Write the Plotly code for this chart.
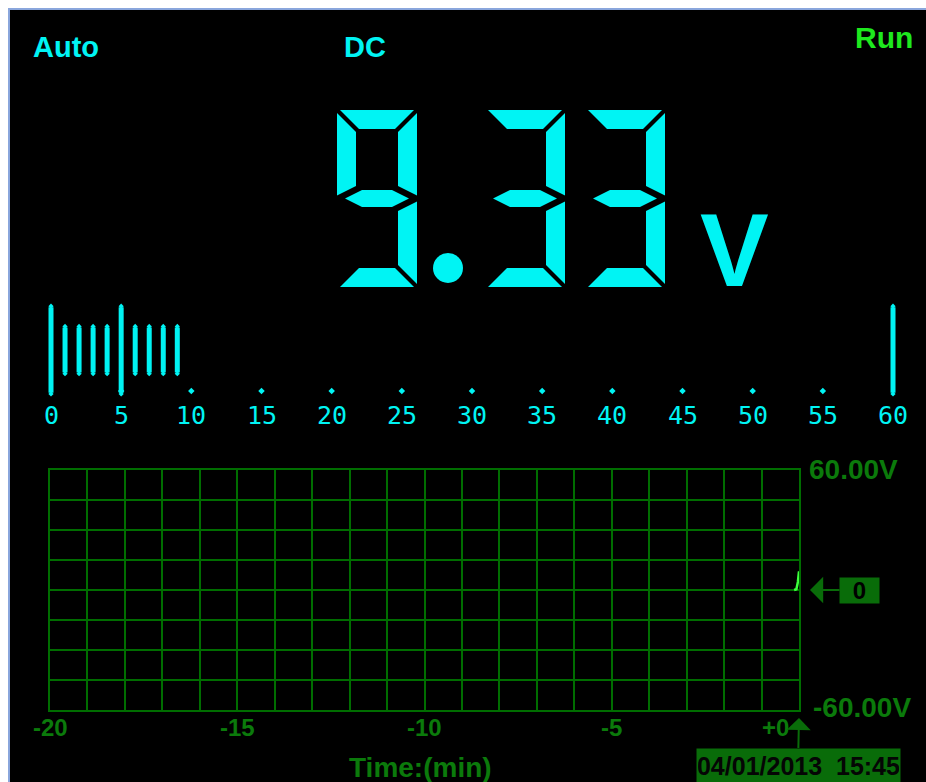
import plotly.graph_objects as go

# ---------------- data ----------------
reading_value = 9.33
reading_text = "9.33"
reading_unit = "V"
mode_label = "Auto"
coupling_label = "DC"
state_label = "Run"

bar_scale_ticks = [0, 5, 10, 15, 20, 25, 30, 35, 40, 45, 50, 55, 60]
bar_scale_max = 60

trend_time = [-0.13, -0.07, -0.03, 0.0]
trend_volts = [0.0, 0.4, 4.0, 9.33]
trend_xticks = [-20, -15, -10, -5]
trend_xticktext = ["-20", "-15", "-10", "-5"]
trend_end_label = "+0"
trend_ymin, trend_ymax = -60, 60
trend_ymax_label = "60.00V"
trend_ymin_label = "-60.00V"
offset_marker = "0"
timestamp = "04/01/2013  15:45"
time_axis_title = "Time:(min)"

# ---------------- style ----------------
W, H = 926, 782
CYAN = "#00f4f4"
GRID = "#006d00"
TXTG = "#0b7a0b"
BOXG = "#096c09"
RUNG = "#1ee81e"
TRACE = "#3cff3c"
FONT = "Liberation Sans, Arial, sans-serif"


def px(x):
    return x / W


def py(y):
    return 1 - y / H


fig = go.Figure()

# ---------- trend graph ----------
fig.add_trace(go.Scatter(x=trend_time, y=trend_volts, mode="lines",
                         line=dict(color=TRACE, width=2.5),
                         xaxis="x", yaxis="y", hoverinfo="skip", cliponaxis=False))

# ---------- analog bar graph ----------
bar_x0_px, bar_x60_px = 51, 893
ppu = (bar_x60_px - bar_x0_px) / bar_scale_max
bar_center_px, bar_unit_px = 350, 22.5
small_half, tall_half = 1.0, 1.9

seg_units = list(range(0, int(reading_value) + 1))
bars_x = seg_units + [bar_scale_max]
bars_half = [tall_half if (u % 5 == 0) else small_half for u in seg_units] + [tall_half]
fig.add_trace(go.Bar(x=bars_x, y=[2 * h for h in bars_half], base=[-h for h in bars_half],
                     width=5 / ppu, marker=dict(color=CYAN, line=dict(width=0)),
                     xaxis="x2", yaxis="y2", hoverinfo="skip"))
# pointed bar ends
end_x = bars_x + bars_x
end_y = [h + 0.05 for h in bars_half] + [-h - 0.05 for h in bars_half]
fig.add_trace(go.Scatter(x=end_x, y=end_y, mode="markers",
                         marker=dict(color=CYAN, size=4, symbol="diamond"),
                         xaxis="x2", yaxis="y2", hoverinfo="skip"))
dots_x = [t for t in bar_scale_ticks if 0 < t < bar_scale_max]
dot_y = (bar_center_px - 391) / bar_unit_px
fig.add_trace(go.Scatter(x=dots_x, y=[dot_y] * len(dots_x), mode="markers",
                         marker=dict(color=CYAN, size=5, symbol="diamond"),
                         xaxis="x2", yaxis="y2", hoverinfo="skip"))

annotations = []
label_y = (bar_center_px - 415) / bar_unit_px
for t in bar_scale_ticks:
    annotations.append(dict(x=t, y=label_y, xref="x2", yref="y2", text=str(t),
                            showarrow=False, xanchor="center", yanchor="middle",
                            font=dict(family="DejaVu Sans Mono", size=25, color=CYAN)))

# ---------- seven segment reading ----------
SEGMAP = {"0": "abcdef", "1": "bc", "2": "abged", "3": "abgcd", "4": "fgbc",
          "5": "afgcd", "6": "afgedc", "7": "abc", "8": "abcdefg", "9": "abcdfg", "-": "g"}
DW, DH, T, G = 80, 177, 19, 3


def seg_polys(x0, y0):
    h2 = DH / 2
    P = {
        "a": [(G, 0), (DW - G, 0), (DW - T - G, T), (T + G, T)],
        "d": [(G, DH), (DW - G, DH), (DW - T - G, DH - T), (T + G, DH - T)],
        "f": [(0, G), (T, T + G), (T, h2 - T / 2 - G), (0, h2 - G)],
        "b": [(DW, G), (DW - T, T + G), (DW - T, h2 - T / 2 - G), (DW, h2 - G)],
        "e": [(0, h2 + G), (T, h2 + T / 2 + G), (T, DH - T - G), (0, DH - G)],
        "c": [(DW, h2 + G), (DW - T, h2 + T / 2 + G), (DW - T, DH - T - G), (DW, DH - G)],
        "g": [(2 * G + 2, h2), (T + 2 * G, h2 - T / 2 + 1), (DW - T - 2 * G, h2 - T / 2 + 1),
              (DW - 2 * G - 2, h2), (DW - T - 2 * G, h2 + T / 2 - 1), (T + 2 * G, h2 + T / 2 - 1)],
    }
    return {k: [(x0 + a, y0 + b) for a, b in v] for k, v in P.items()}


shapes = []
# screen background and border
shapes.append(dict(type="rect", xref="paper", yref="paper", x0=px(9), x1=px(W + 2),
                   y0=py(H + 2), y1=py(9), fillcolor="black",
                   line=dict(color="#8aa6dc", width=2), layer="below"))

cursor, top = 337, 110
for ch in reading_text:
    if ch == ".":
        cx, cy, r = cursor + 11, 268, 15
        shapes.append(dict(type="circle", xref="x3", yref="y3", x0=cx - r, x1=cx + r,
                           y0=cy - r, y1=cy + r, fillcolor=CYAN, line=dict(width=0)))
        cursor += 48
        continue
    polys = seg_polys(cursor, top)
    for s in SEGMAP.get(ch, ""):
        pts = polys[s]
        path = "M " + " L ".join(f"{x:.1f},{y:.1f}" for x, y in pts) + " Z"
        shapes.append(dict(type="path", xref="x3", yref="y3", path=path,
                           fillcolor=CYAN, line=dict(width=0)))
    cursor += 100

annotations.append(dict(x=px(734), y=py(250), xref="paper", yref="paper", text=reading_unit,
                        showarrow=False, xanchor="center", yanchor="middle",
                        font=dict(family=FONT, size=103, color=CYAN, weight="bold")))

# ---------- header labels ----------
annotations += [
    dict(x=px(31), y=py(47), xref="paper", yref="paper", text=mode_label, showarrow=False,
         xanchor="left", yanchor="middle", font=dict(family=FONT, size=29, color=CYAN, weight="bold")),
    dict(x=px(365), y=py(47), xref="paper", yref="paper", text=coupling_label, showarrow=False,
         xanchor="center", yanchor="middle", font=dict(family=FONT, size=29, color=CYAN, weight="bold")),
    dict(x=px(915), y=py(38), xref="paper", yref="paper", text=state_label, showarrow=False,
         xanchor="right", yanchor="middle", font=dict(family=FONT, size=30, color=RUNG, weight="bold")),
]

# ---------- trend graph labels ----------
for v, t in zip(trend_xticks, trend_xticktext):
    annotations.append(dict(x=v, y=py(727), xref="x", yref="paper", text=t, showarrow=False,
                            xanchor="center", yanchor="middle",
                            font=dict(family=FONT, size=24, color=TXTG, weight="bold")))
annotations += [
    dict(x=px(807), y=trend_ymax, xref="paper", yref="y", text=trend_ymax_label, showarrow=False,
         xanchor="left", yanchor="middle", yshift=1,
         font=dict(family=FONT, size=28, color=TXTG, weight="bold")),
    dict(x=px(811), y=trend_ymin, xref="paper", yref="y", text=trend_ymin_label, showarrow=False,
         xanchor="left", yanchor="middle", yshift=3,
         font=dict(family=FONT, size=28, color=TXTG, weight="bold")),
    dict(x=0, y=py(727), xref="x", yref="paper", text=trend_end_label, showarrow=False,
         xanchor="right", yanchor="middle", xshift=-8,
         font=dict(family=FONT, size=24, color=TXTG, weight="bold")),
    dict(x=px(420), y=py(767), xref="paper", yref="paper", text=time_axis_title, showarrow=False,
         xanchor="center", yanchor="middle",
         font=dict(family=FONT, size=28, color=TXTG, weight="bold")),
    # zero-offset marker with arrow
    dict(x=px(810), y=0, xref="paper", yref="y", text=offset_marker, showarrow=True,
         ax=49.5, ay=0, arrowhead=1, arrowsize=2.2, arrowwidth=2, arrowcolor=BOXG,
         bgcolor=BOXG, width=37, height=23, borderpad=1,
         font=dict(family=FONT, size=24, color="black", weight="bold")),
    # timestamp with arrow pointing at t=0
    dict(x=0, y=py(718), xref="x", yref="paper", text=timestamp, showarrow=True,
         ax=-1, ay=47, arrowhead=1, arrowsize=2.0, arrowwidth=2, arrowcolor=BOXG,
         bgcolor=BOXG, width=201, height=31, borderpad=1,
         font=dict(family=FONT, size=25, color="#050505", weight="bold")),
]

fig.update_layout(
    width=W, height=H,
    margin=dict(l=0, r=0, t=0, b=0),
    paper_bgcolor="white", plot_bgcolor="rgba(0,0,0,0)",
    showlegend=False,
    xaxis=dict(domain=[px(50), px(799)], range=[-20, 0], anchor="y",
               showgrid=True, tickmode="linear", dtick=1, tick0=0, gridcolor=GRID, gridwidth=1.5,
               zeroline=False, showline=True, mirror=True, linecolor=GRID, linewidth=1.5,
               showticklabels=False, ticks="", fixedrange=True),
    yaxis=dict(domain=[py(710), py(470)], range=[trend_ymin, trend_ymax], anchor="x",
               showgrid=True, tickmode="linear", dtick=15, tick0=0, gridcolor=GRID, gridwidth=1.5,
               zeroline=False, showline=True, mirror=True, linecolor=GRID, linewidth=1.5,
               showticklabels=False, ticks="", fixedrange=True),
    xaxis2=dict(domain=[0, 1], range=[-bar_x0_px / ppu, (W - bar_x0_px) / ppu], anchor="y2",
                visible=False, fixedrange=True),
    yaxis2=dict(domain=[0, 1], range=[(bar_center_px - H) / bar_unit_px, bar_center_px / bar_unit_px],
                anchor="x2", visible=False, fixedrange=True),
    xaxis3=dict(domain=[0, 1], range=[0, W], anchor="y3", visible=False, fixedrange=True),
    yaxis3=dict(domain=[0, 1], range=[H, 0], anchor="x3", visible=False, fixedrange=True),
    shapes=shapes,
    annotations=annotations,
)

fig.write_html(
    "out.html",
    config={"displayModeBar": False, "responsive": False},
    post_script=("document.documentElement.style.margin='0';document.body.style.margin='0';"
                 "document.body.style.padding='0';document.documentElement.style.overflow='hidden';"
                 "document.body.style.overflow='hidden';"),
)
